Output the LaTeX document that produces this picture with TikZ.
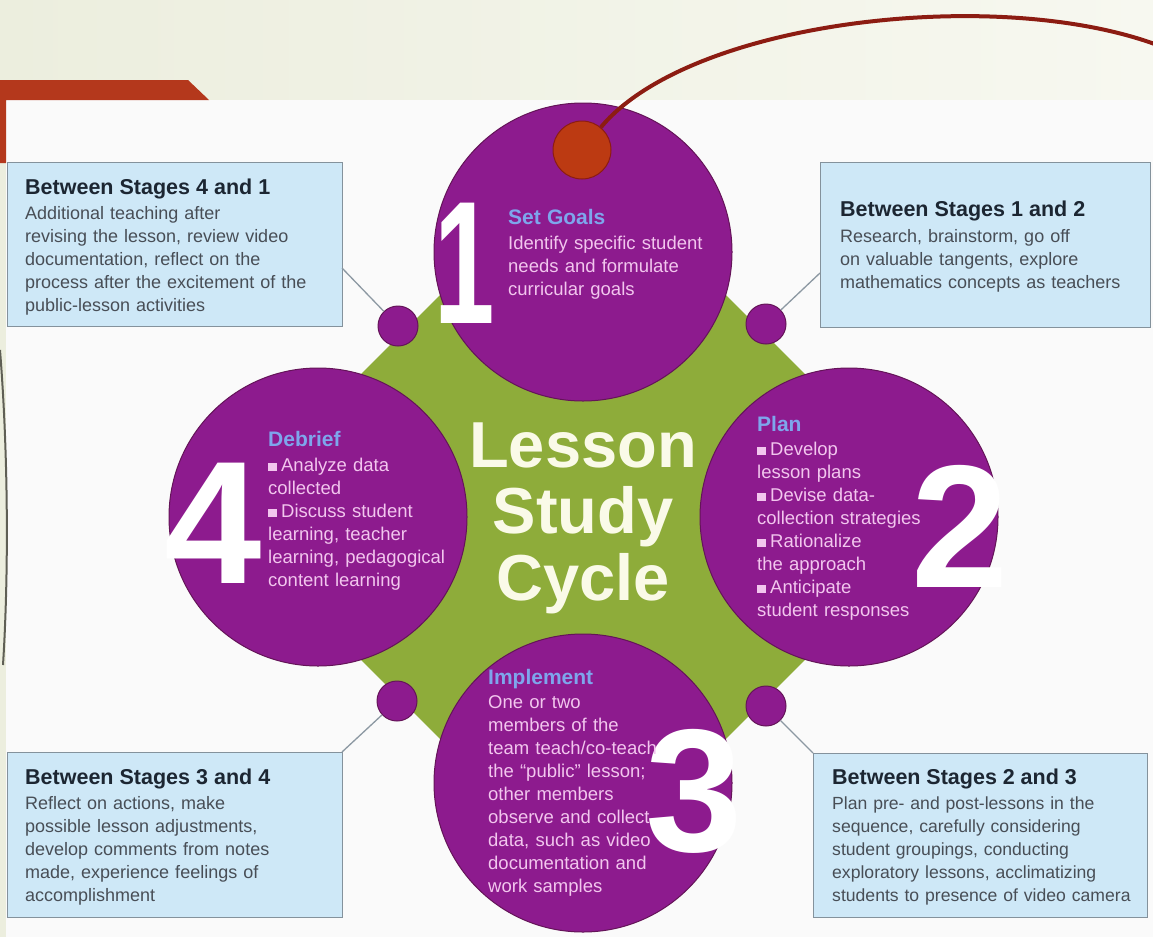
\documentclass[tikz,border=0pt]{standalone}
\usepackage{fontspec}
\setmainfont{Liberation Sans}
\definecolor{purp}{RGB}{141,27,142}
\definecolor{purpdark}{RGB}{100,20,88}
\definecolor{grn}{RGB}{142,172,58}
\definecolor{boxfill}{RGB}{206,232,247}
\definecolor{boxline}{RGB}{132,146,156}
\definecolor{boxtitle}{RGB}{28,38,50}
\definecolor{boxbody}{RGB}{72,78,86}
\definecolor{ctitle}{RGB}{126,166,236}
\definecolor{cbody}{RGB}{242,198,238}
\definecolor{reddot}{RGB}{188,58,18}
\definecolor{redarc}{RGB}{140,28,18}
\definecolor{creamA}{RGB}{236,238,222}
\definecolor{creamB}{RGB}{247,248,240}
\definecolor{brick}{RGB}{180,56,28}
\definecolor{panel}{RGB}{250,250,250}
\definecolor{connc}{RGB}{140,152,162}
\definecolor{cyc}{RGB}{250,250,232}
\newcommand\sqb{\rule{0.45em}{0.45em}\hspace{0.25em}}
\newcommand\ctitlefont{\bfseries\fontsize{21}{23}\selectfont\color{ctitle}}
\newcommand\btitlefont{\bfseries\fontsize{21.5}{23}\selectfont\color{boxtitle}}
\begin{document}
\begin{tikzpicture}[x=1pt,y=-1pt,
  stage/.style={circle, fill=purp, draw=purpdark, line width=1pt, minimum size=298pt, inner sep=0pt},
  joint/.style={circle, fill=purp, draw=purpdark, line width=1pt, minimum size=40pt, inner sep=0pt},
  infobox/.style={rectangle, fill=boxfill, draw=boxline, line width=1.2pt, inner sep=0pt, anchor=north west},
  connector/.style={draw=connc, line width=1.3pt},
  bignum/.style={text=white, font=\bfseries\fontsize{175}{175}\selectfont, inner sep=0pt, anchor=base},
  ctext/.style={anchor=base west, inner sep=0pt, text width=260pt, align=left, text=cbody, font=\fontsize{18.5}{23}\selectfont},
  btext/.style={anchor=base west, inner sep=0pt, text width=330pt, align=left, text=boxbody, font=\fontsize{18}{23}\selectfont},
]
\useasboundingbox (0,0) rectangle (1153,937);
% background
\shade[left color=creamA, right color=creamB] (0,0) rectangle (1153,100);
\fill[creamA] (0,100) rectangle (6,937);
\fill[panel] (6,100) rectangle (1153,937);
\fill[brick] (0,80) -- (188,80) -- (209,100) -- (6,100) -- (6,163) -- (0,163) -- cycle;
\draw[color={rgb,255:red,95;green,95;blue,85}, line width=2pt] (0,350) .. controls (8,450) and (9,570) .. (3,665);
% green octagon
\fill[grn] (583,517) +(22.5:279.3) -- +(67.5:279.3) -- +(112.5:279.3) -- +(157.5:279.3) -- +(202.5:279.3) -- +(247.5:279.3) -- +(292.5:279.3) -- +(337.5:279.3) -- cycle;
% stage circles
\node[stage] (s1) at (583,252) {};
\node[stage] (s2) at (849,517) {};
\node[stage] (s3) at (583,783) {};
\node[stage] (s4) at (318,517) {};
% joints
\node[joint] (j41) at (398,326) {};
\node[joint] (j12) at (766,324) {};
\node[joint] (j34) at (397,701) {};
\node[joint] (j23) at (766,706) {};
% boxes
\node[infobox, minimum width=335pt, minimum height=164pt] (b41) at (7,162) {};
\node[infobox, minimum width=330pt, minimum height=165pt] (b12) at (820,162) {};
\node[infobox, minimum width=335pt, minimum height=165pt] (b34) at (7,752) {};
\node[infobox, minimum width=334pt, minimum height=164pt] (b23) at (813,753) {};
% connectors
\coordinate (k41) at (342,268);
\coordinate (k12) at (820,273);
\coordinate (k34) at (342,752);
\coordinate (k23) at (813,753);
\draw[connector] (j41) -- (k41);
\draw[connector] (j12) -- (k12);
\draw[connector] (j34) -- (k34);
\draw[connector] (j23) -- (k23);
% big numbers
\node[bignum] (n1) at (465,323) {\scalebox{0.62}[1]{1}};
\node[bignum] (n2) at (960,587) {2};
\node[bignum] (n3) at (694,851) {3};
\node[bignum] (n4) at (213,583) {4};
% centre title
\node[anchor=base, inner sep=0pt, text width=320pt, align=center, text=cyc, font=\bfseries\fontsize{65}{66.5}\selectfont] (title) at (583,467) {Lesson\\Study\\Cycle};
% circle texts
\node[ctext] (t1) at (508,224) {{\ctitlefont Set Goals}\\[2pt]Identify specific student\\needs and formulate\\curricular goals};
\node[ctext] (t2) at (757,431) {{\ctitlefont Plan}\\[1pt]\sqb Develop\\lesson plans\\\sqb Devise data-\\collection strategies\\\sqb Rationalize\\the approach\\\sqb Anticipate\\student responses};
\node[ctext] (t4) at (268,446) {{\ctitlefont Debrief}\\[2pt]\sqb Analyze data\\collected\\\sqb Discuss student\\learning, teacher\\learning, pedagogical\\content learning};
\node[ctext] (t3) at (488,684) {{\ctitlefont Implement}\\[1pt]One or two\\members of the\\team teach/co-teach\\the “public” lesson;\\other members\\observe and collect\\data, such as video\\documentation and\\work samples};
% box texts
\node[btext] (x41) at (25,194) {{\btitlefont Between Stages 4 and 1}\\[2pt]Additional teaching after\\revising the lesson, review video\\documentation, reflect on the\\process after the excitement of the\\public-lesson activities};
\node[btext] (x12) at (840,216) {{\btitlefont Between Stages 1 and 2}\\[3pt]Research, brainstorm, go off\\on valuable tangents, explore\\mathematics concepts as teachers};
\node[btext] (x34) at (25,784) {{\btitlefont Between Stages 3 and 4}\\[2pt]Reflect on actions, make\\possible lesson adjustments,\\develop comments from notes\\made, experience feelings of\\accomplishment};
\node[btext, font=\fontsize{17.6}{23}\selectfont] (x23) at (832,784) {{\btitlefont Between Stages 2 and 3}\\[2pt]Plan pre- and post-lessons in the\\sequence, carefully considering\\student groupings, conducting\\exploratory lessons, acclimatizing\\students to presence of video camera};
% red arc and dot
\node[circle, fill=reddot, draw=redarc, line width=1pt, minimum size=58pt, inner sep=0pt] (rd) at (582,150) {};
\coordinate (arcend) at (1160,46);
\draw[redarc, line width=4pt] (rd) .. controls (690,20) and (1000,-15) .. (arcend);
\end{tikzpicture}
\end{document}
